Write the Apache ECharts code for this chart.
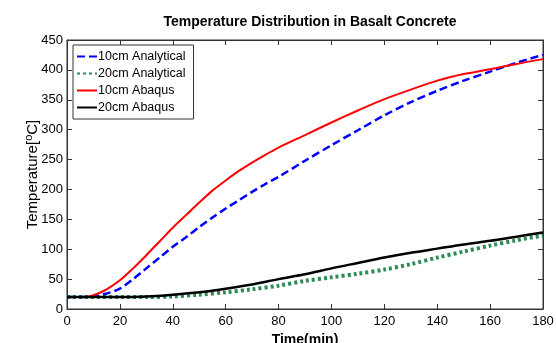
<!DOCTYPE html>
<html><head><meta charset="utf-8">
<script src="https://cdn.jsdelivr.net/npm/echarts@6/dist/echarts.min.js"></script>
<style>html,body{margin:0;padding:0;background:#fff;overflow:hidden}#c{width:556px;height:343px}</style>
</head><body><div id="c"></div>
<script>
const title = 'Temperature Distribution in Basalt Concrete';
const xTicks = [0,20,40,60,80,100,120,140,160,180];
const yTicks = [0,50,100,150,200,250,300,350,400,450];
const seriesNames = ['10cm Analytical','20cm Analytical','10cm Abaqus','20cm Abaqus'];

const blueT = [0,5,10,15,20,25,30,35,40,45,50,55,60,65,70,75,80,90,100,110,120,130,140,150,160,170,180];
const blueV = [20,20,21,26,34,50,68,86,104,120,137,153,168,182,196,209,221,248,274,299,324,346,365,382,397,412,425];

const greenT = [0,10,20,30,40,50,60,70,80,90,100,110,120,130,140,150,160,170,180];
const greenV = [20,20,20,20,21,24,28,33,39,47,53,59,66,75,86,96,106,115,123];

const redT = [0,5,8,10,15,20,25,30,35,40,45,50,55,60,65,70,75,80,90,100,110,120,130,140,150,160,170,180];
const redV = [20,20,21,23,33,48,68,90,113,136,157,178,198,215,231,245,258,270,291,312,332,351,367,382,393,401,410,418];

const blackT = [0,10,20,30,40,50,60,70,80,90,100,110,120,130,140,150,160,170,180];
const blackV = [20,20,20,21,24,28,34,41,50,58,68,77,86,94,101,108,114,121,128];

const pairs = (t,v)=>t.map((x,i)=>[x,v[i]]);
const font = 'Liberation Sans, Arial, sans-serif';
const axisCol = '#333';

const chart = echarts.init(document.getElementById('c'), null, {renderer:'canvas'});
const baseAxis = {
  axisLine:{show:true,onZero:false,lineStyle:{color:axisCol,width:1}},
  axisTick:{show:true,inside:true,length:5,lineStyle:{color:axisCol}},
  splitLine:{show:false}
};
const lineSeries = (i,t,v,ls,z)=>({name:seriesNames[i],type:'line',data:pairs(t,v),
  smooth:0.3,symbol:'none',showSymbol:false,
  lineStyle:ls,itemStyle:{color:ls.color},z:z});
chart.setOption({
  animation:false,
  title:{text:title,left:305,textAlign:'center',top:10,
    textStyle:{fontFamily:font,fontSize:14,fontWeight:'bold',color:'#000'}},
  grid:{left:67,right:13,top:40,bottom:34,show:true,borderColor:axisCol,borderWidth:1,
    containLabel:false,outerBoundsMode:'none'},
  legend:{data:seriesNames,orient:'vertical',left:73,top:45,
    backgroundColor:'#fff',borderColor:'#333',borderWidth:1,padding:[5,8,5,3],
    itemGap:4,itemWidth:20,itemHeight:12,
    itemStyle:{opacity:0},
    textStyle:{fontFamily:font,fontSize:12.5,color:'#000',padding:[0,0,0,-4]}},
  xAxis:[
    Object.assign({},baseAxis,{type:'value',min:0,max:180,interval:20,position:'bottom',
      name:'Time(min)',nameLocation:'middle',nameGap:24,nameMoveOverlap:false,
      nameTextStyle:{fontFamily:font,fontSize:14,fontWeight:'bold',color:'#000'},
      axisLabel:{fontFamily:font,fontSize:13,color:'#000',margin:6,
        formatter:v=>xTicks.includes(v)?String(v):''}}),
    Object.assign({},baseAxis,{type:'value',min:0,max:180,interval:20,position:'top',axisLabel:{show:false}})
  ],
  yAxis:[
    Object.assign({},baseAxis,{type:'value',min:0,max:450,interval:50,position:'left',
      name:'Temperature[{s|o}C]',nameLocation:'middle',nameGap:25,nameRotate:90,nameMoveOverlap:false,
      nameTextStyle:{fontFamily:font,fontSize:15,color:'#000',
        rich:{s:{fontFamily:font,fontSize:11,verticalAlign:'top',padding:[0,0,8,0]}}},
      axisLabel:{fontFamily:font,fontSize:13,color:'#000',margin:4,
        formatter:v=>yTicks.includes(v)?String(v):''}}),
    Object.assign({},baseAxis,{type:'value',min:0,max:450,interval:50,position:'right',axisLabel:{show:false}})
  ],
  series:[
    lineSeries(0,blueT,blueV,{color:'#0000ff',width:2.5,type:[8,4]},3),
    lineSeries(1,greenT,greenV,{color:'#2e8b57',width:4,type:[3,3]},2),
    lineSeries(2,redT,redV,{color:'#ff0000',width:2},4),
    lineSeries(3,blackT,blackV,{color:'#000000',width:2.5},5)
  ]
});
</script></body></html>
